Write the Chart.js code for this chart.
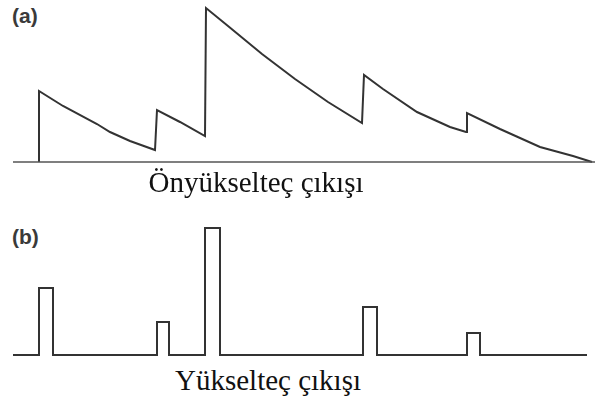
<!DOCTYPE html>
<html lang="tr">
<head>
  <meta charset="UTF-8" />
  <title>Önyükselteç ve yükselteç çıkışı</title>
  <script src="https://cdn.jsdelivr.net/npm/chart.js"></script>
  <style>
    body { margin: 0; background: #fff; width: 596px; height: 410px; position: relative; overflow: hidden; }
    canvas { position: absolute; left: 0; }
    #preampChart { top: 0; }
    #ampChart { top: 210px; }
    .tag { position: absolute; left: 12px; font: bold 21px "Liberation Sans", Arial, sans-serif; color: #3a3a3a; }
    .caption { position: absolute; font: 29px "Liberation Serif", "Times New Roman", serif; color: #111; white-space: nowrap; transform: translateX(-50%); }
  </style>
</head>
<body>
  <div class="tag" style="top:4px">(a)</div>
  <canvas id="preampChart" width="596" height="170"></canvas>
  <div class="caption" style="left:256px; top:166px">Önyükselteç çıkışı</div>

  <div class="tag" style="top:225px">(b)</div>
  <canvas id="ampChart" width="596" height="150"></canvas>
  <div class="caption" style="left:268px; top:364px">Yükselteç çıkışı</div>

  <script>
    // (a) önyükselteç çıkışı - okunan noktalar (zaman, genlik)
    const preampTime  = [39, 39, 63, 97, 110, 130, 155, 157, 180, 205, 206, 228, 262, 295, 328, 362, 364, 383, 417, 450, 466, 467, 500, 540, 573, 592];
    const preampLevel = [0, 71, 56, 38, 30, 21, 12, 52, 40, 26, 154, 136, 108, 83, 60, 39, 87, 73, 50, 35, 30, 49, 33, 15, 6, 0];
    const preampAxis  = [13, 595];

    // (b) yükselteç çıkışı - darbeler
    const pulseStart  = [39, 157, 205, 363, 467];
    const pulseEnd    = [53, 169, 220, 377, 480];
    const pulseHeight = [67, 33, 127, 48, 22];
    const ampAxis     = [13, 587];

    const lineColor = '#333';

    function baseOptions(yMin, yMax) {
      return {
        responsive: false,
        animation: false,
        layout: { padding: 0 },
        plugins: { legend: { display: false }, tooltip: { enabled: false } },
        scales: {
          x: { type: 'linear', display: false, min: 0, max: 596 },
          y: { display: false, min: yMin, max: yMax }
        }
      };
    }

    const preampData = preampTime.map((t, i) => ({ x: t, y: preampLevel[i] }));

    new Chart(document.getElementById('preampChart'), {
      type: 'line',
      data: {
        datasets: [
          { data: preampAxis.map(x => ({ x, y: 0 })), borderColor: '#555', borderWidth: 1.5, pointRadius: 0, clip: false },
          { data: preampData, borderColor: lineColor, borderWidth: 2, pointRadius: 0, tension: 0, clip: false }
        ]
      },
      options: baseOptions(-8, 162)
    });

    // darbe dizisinden basamaklı çizgi
    const ampData = [{ x: ampAxis[0], y: 0 }];
    pulseStart.forEach((s, i) => {
      ampData.push({ x: s, y: 0 }, { x: s, y: pulseHeight[i] }, { x: pulseEnd[i], y: pulseHeight[i] }, { x: pulseEnd[i], y: 0 });
    });
    ampData.push({ x: ampAxis[1], y: 0 });

    new Chart(document.getElementById('ampChart'), {
      type: 'line',
      data: {
        datasets: [
          { data: ampData, borderColor: lineColor, borderWidth: 2, pointRadius: 0, tension: 0, clip: false }
        ]
      },
      options: baseOptions(-5, 145)
    });
  </script>
</body>
</html>
